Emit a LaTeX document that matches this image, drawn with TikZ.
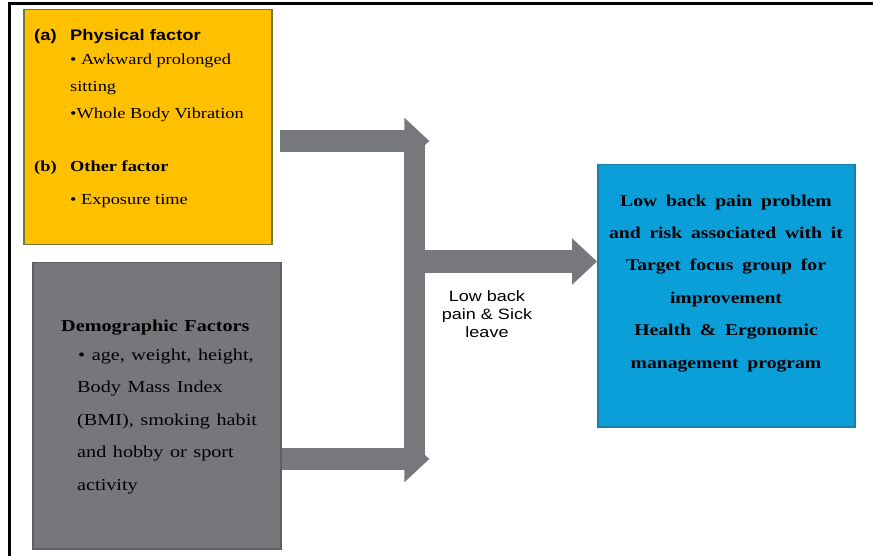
\documentclass[tikz,border=0pt]{standalone}
\usepackage{fontspec}
\setmainfont{Liberation Serif}[FakeStretch=1.2]
\newfontfamily\widefont{Liberation Serif}[FakeStretch=1.19, WordSpace=1.8]
\newfontfamily\demofont{Liberation Serif}[FakeStretch=1.21, WordSpace=1.3]
\newfontfamily\arialfont{Liberation Sans}[FakeStretch=1.2]
\usetikzlibrary{arrows.meta, positioning}

\definecolor{factorgold}{HTML}{FFC000}
\definecolor{goldedge}{HTML}{6A7B3B}
\definecolor{demogray}{HTML}{76777B}
\definecolor{demoedge}{HTML}{5E5F62}
\definecolor{outblue}{HTML}{0A9FD9}
\definecolor{outedge}{HTML}{1D7DAA}
\definecolor{arrowgray}{HTML}{77787C}

\begin{document}
\begin{tikzpicture}[x=1pt, y=-1pt,
    factorbox/.style={draw, line width=1.5pt, anchor=north west, inner sep=0pt},
    boxtext/.style={anchor=north west, inner sep=0pt, align=left},
    fatarrow/.style={draw=arrowgray, line width=22pt, -{Triangle[width=45pt, length=25pt]}}]
    \useasboundingbox (0,0) rectangle (873,556);

    % frame
    \draw[line width=3pt] (9,556) |- (873,4);

    % boxes
    \node (phys) [factorbox, fill=factorgold, draw=goldedge, minimum width=248pt, minimum height=235pt] at (23,9) {};
    \node (demo) [factorbox, fill=demogray, draw=demoedge, minimum width=248pt, minimum height=286pt] at (32,262) {};
    \node (out) [factorbox, fill=outblue, draw=outedge, minimum width=257pt, minimum height=262pt] at (597,164) {};
    \node (bar) [anchor=north west, inner sep=0pt, fill=arrowgray, minimum width=21pt, minimum height=320pt] at (404,141) {};

    % texts
    \node (physTxt) [boxtext, font=\fontsize{15.3}{27}\selectfont] at (34,29) {%
        {\arialfont\bfseries\makebox[36pt][l]{(a)}Physical factor}\\[-3pt]
        \hspace*{36pt}• Awkward prolonged\\
        \hspace*{36pt}sitting\\
        \hspace*{36pt}•Whole Body Vibration\\[26pt]
        {\bfseries\makebox[36pt][l]{(b)}Other factor}\\[6pt]
        \hspace*{36pt}• Exposure time};
    \node (demoTxt) [boxtext, font=\demofont\fontsize{16.7}{32.5}\selectfont] at (61,320) {%
        \textbf{Demographic Factors}\\[-4pt]
        \hspace*{17pt}• age, weight, height,\\
        \hspace*{16pt}Body Mass Index\\
        \hspace*{16pt}(BMI), smoking habit\\
        \hspace*{16pt}and hobby or sport\\
        \hspace*{16pt}activity};
    \node (outTxt) [anchor=north, inner sep=0pt, align=center, font=\widefont\bfseries\fontsize{16.5}{32.4}\selectfont] at (726,194.5) {%
        Low back pain problem\\
        and risk associated with it\\
        Target focus group for\\
        improvement\\
        Health \& Ergonomic\\
        management program};
    \node (lbp) [anchor=north, inner sep=0pt, align=center, font=\arialfont\fontsize{15}{18.3}\selectfont] at (487,290) {Low back\\pain \& Sick\\leave};

    % arrows
    \coordinate (physOut) at (280,141);
    \coordinate (demoOut) at (demo.east |- 0,459);
    \coordinate (barOut) at (bar.east |- 0,261.5);
    \draw[fatarrow, shorten >=-4pt] (physOut) -- (bar.east |- physOut);
    \draw[fatarrow, shorten >=-4pt] (demoOut) -- (bar.east |- demoOut);
    \draw[fatarrow] (barOut) -- (out.west |- barOut);
\end{tikzpicture}
\end{document}
